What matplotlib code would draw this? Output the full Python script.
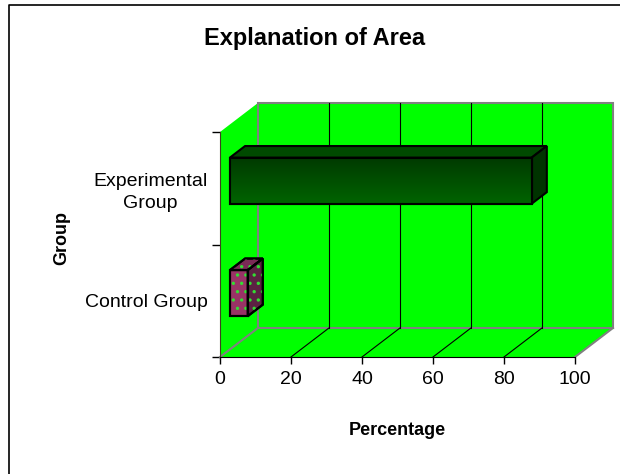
import matplotlib
matplotlib.use('Agg')
import matplotlib.pyplot as plt
from matplotlib.patches import Polygon
from matplotlib.lines import Line2D
from matplotlib.colors import LinearSegmentedColormap
import numpy as np

plt.rcParams['font.family'] = ['Liberation Sans', 'DejaVu Sans']
plt.rcParams['hatch.linewidth'] = 1.2

groups = ['Control Group', 'Experimental\nGroup']
percent = [5, 85]
xticks = [0, 20, 40, 60, 80, 100]

# oblique 3d look: shift of the back plane in data units
DX, DY = 10.7, 0.258
D0, D1 = 0.26, 0.66   # depth range of the bars
H = 0.205             # half thickness of a bar

def proj(v, c, d):
    return (v + d * DX, c + d * DY)

fig = plt.figure(figsize=(6.2, 4.74), dpi=100)
ax = fig.add_axes([220/620, 117/474, 355/620, 225/474])
ax.set_xlim(0, 100)
ax.set_ylim(-0.5, 1.5)
ax.patch.set_visible(False)

green = '#00ff00'
gray = '#808080'
ymin, ymax = -0.5, 1.5

# walls and floor
back = Polygon([proj(0, ymin, 1), proj(100, ymin, 1), proj(100, ymax, 1), proj(0, ymax, 1)],
               closed=True, fc=green, ec=gray, lw=1.5, clip_on=False, zorder=1)
left = Polygon([proj(0, ymin, 0), proj(0, ymin, 1), proj(0, ymax, 1), proj(0, ymax, 0)],
               closed=True, fc=green, ec='none', clip_on=False, zorder=1)
floor = Polygon([proj(0, ymin, 0), proj(100, ymin, 0), proj(100, ymin, 1), proj(0, ymin, 1)],
                closed=True, fc=green, ec='none', clip_on=False, zorder=1)
for p in (left, floor, back):
    ax.add_patch(p)

for v in xticks[1:-1]:
    a, b = proj(v, ymin, 1), proj(v, ymax, 1)
    ax.add_line(Line2D([a[0], b[0]], [a[1], b[1]], color='black', lw=0.8, clip_on=False, zorder=2))
    a, b = proj(v, ymin, 0), proj(v, ymin, 1)
    ax.add_line(Line2D([a[0], b[0]], [a[1], b[1]], color='black', lw=0.8, clip_on=False, zorder=2))
for v in (0, 100):
    a, b = proj(v, ymin, 0), proj(v, ymin, 1)
    ax.add_line(Line2D([a[0], b[0]], [a[1], b[1]], color=gray, lw=1.5, clip_on=False, zorder=3))

# bars
def faces(c, v):
    front = [proj(0, c - H, D0), proj(v, c - H, D0), proj(v, c + H, D0), proj(0, c + H, D0)]
    top = [proj(0, c + H, D0), proj(v, c + H, D0), proj(v, c + H, D1), proj(0, c + H, D1)]
    side = [proj(v, c - H, D0), proj(v, c - H, D1), proj(v, c + H, D1), proj(v, c + H, D0)]
    return front, top, side

styles = [
    dict(front='#993366', top='#7a2a55', side='#5c2143', hatch=True),
    dict(front='#005500', top='#004a00', side='#003300', hatch=False),
]

for c, (v, st) in enumerate(zip(percent, styles)):
    front, top, side = faces(c, v)
    for pts, col in ((top, st['top']), (side, st['side']), (front, st['front'])):
        poly = Polygon(pts, closed=True, fc=col, ec='black', lw=1.5, clip_on=False, zorder=5)
        ax.add_patch(poly)
        if st['hatch']:
            ax.add_patch(Polygon(pts, closed=True, fc='none', ec='#33dd33', lw=0,
                                 hatch='..', clip_on=False, zorder=6))
            ax.add_patch(Polygon(pts, closed=True, fc='none', ec='black', lw=1.5,
                                 clip_on=False, zorder=7))
    if not st['hatch']:
        # vertical shading on the front face
        cmap = LinearSegmentedColormap.from_list('g', ['#003a00', '#006400'])
        grad = np.linspace(0, 1, 64).reshape(-1, 1)
        fx = [p[0] for p in front]
        fy = [p[1] for p in front]
        clip = Polygon(front, closed=True, transform=ax.transData)
        im = ax.imshow(grad, cmap=cmap, aspect='auto', origin='upper',
                       extent=(min(fx), max(fx), min(fy), max(fy)), zorder=5.5)
        im.set_clip_path(clip)
        ax.add_patch(Polygon(front, closed=True, fc='none', ec='black', lw=1.5,
                             clip_on=False, zorder=7))

ax.set_xlim(0, 100)
ax.set_ylim(-0.5, 1.5)

# axes
for s in ('top', 'right'):
    ax.spines[s].set_visible(False)
ax.spines['bottom'].set_color('black')
ax.spines['left'].set_color('#404020')
ax.spines['bottom'].set_zorder(8)
ax.spines['left'].set_zorder(8)

ax.set_xticks(xticks)
ax.tick_params(axis='x', direction='out', length=5, width=1, labelsize=14, pad=5)
ax.set_yticks([-0.5, 0.5, 1.5])
ax.set_yticklabels(['', '', ''])
ax.tick_params(axis='y', which='major', direction='out', length=6, width=1)
ax.set_yticks([0, 1], labels=groups, minor=True)
ax.tick_params(axis='y', which='minor', length=0, labelsize=14, pad=9)
for lab in ax.get_yticklabels(minor=True):
    lab.set_multialignment('center')
    lab.set_linespacing(1.4)

ax.set_xlabel('Percentage', fontsize=13, fontweight='bold')
ax.xaxis.set_label_coords(0.5, -0.29)
ax.set_ylabel('Group', fontsize=13, fontweight='bold')
ax.yaxis.set_label_coords(-0.422, 0.53)

fig.text(315/620, 1 - 45/474, 'Explanation of Area', fontsize=17, fontweight='bold',
         ha='center', va='baseline')

# chart area border (left and top edges are visible)
fig.add_artist(Line2D([9/620, 9/620, 1], [0, 1 - 5/474, 1 - 5/474],
                      transform=fig.transFigure, color='black', lw=1.2))

fig.savefig('out.png', dpi=100)
